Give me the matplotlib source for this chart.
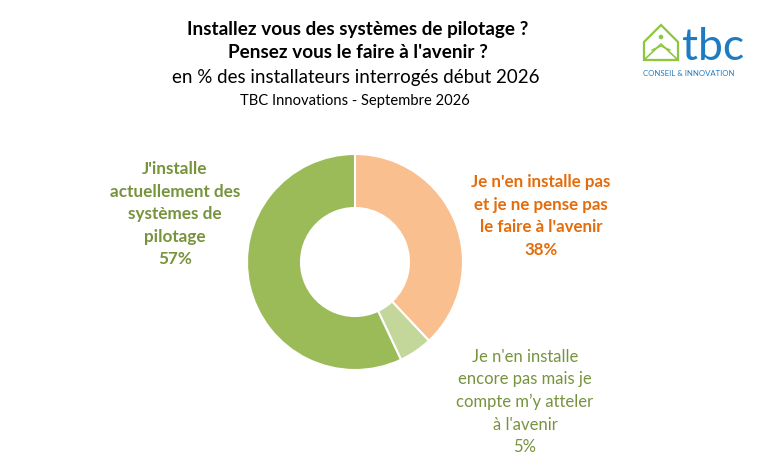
import numpy as np
import matplotlib.pyplot as plt
from matplotlib.patches import Polygon, Circle

plt.rcParams['font.family'] = ['Lato', 'DejaVu Sans']

labels = ["Je n'en installe pas\net je ne pense pas\nle faire à l'avenir\n38%",
          "Je n'en installe\nencore pas mais je\ncompte m’y atteler\nà l'avenir\n5%",
          "J'installe\nactuellement des\nsystèmes de\npilotage\n57%"]
values = [38, 5, 57]
colors = ['#F9BF8F', '#C4D79B', '#9BBB59']

fig = plt.figure(figsize=(7.7, 4.65), dpi=100)
fig.patch.set_facecolor('white')

# donut: centre ~ (355, 262) px, radius ~108 px
ax = fig.add_axes([(355 - 108) / 770, 1 - (262 + 108) / 465, 216 / 770, 216 / 465])
ax.pie(values, colors=colors, startangle=90, counterclock=False,
       wedgeprops=dict(width=0.5, edgecolor='white', linewidth=1.5))
ax.set_aspect('equal')
ax.set_xlim(-1, 1)
ax.set_ylim(-1, 1)

# labels
fig.text(541 / 770, 1 - 216 / 465, labels[0], ha='center', va='center',
         fontsize=12.2, fontweight='bold', color='#E46C0A', linespacing=1.5)
fig.text(525 / 770, 1 - 402 / 465, labels[1], ha='center', va='center',
         fontsize=12, color='#77933C', linespacing=1.5)
fig.text(175 / 770, 1 - 214 / 465, labels[2], ha='center', va='center',
         fontsize=12.3, fontweight='bold', color='#77933C', linespacing=1.5)

# titles
fig.text(358 / 770, 1 - 30 / 465, "Installez vous des systèmes de pilotage ?",
         ha='center', va='center', fontsize=13.6, fontweight='bold', color='black')
fig.text(358 / 770, 1 - 53 / 465, "Pensez vous le faire à l'avenir ?",
         ha='center', va='center', fontsize=13.6, fontweight='bold', color='black')
fig.text(356 / 770, 1 - 77 / 465, "en % des installateurs interrogés début 2026",
         ha='center', va='center', fontsize=13.5, color='black')
fig.text(355 / 770, 1 - 101 / 465, "TBC Innovations - Septembre 2026",
         ha='center', va='center', fontsize=10.6, color='black')

# logo
lax = fig.add_axes([630 / 770, 1 - 80 / 465, 130 / 770, 60 / 465])
lax.set_xlim(0, 130)
lax.set_ylim(60, 0)
lax.axis('off')
house = Polygon([[14, 40], [14, 22], [31, 5], [48, 22], [48, 40]], closed=True,
                fill=False, edgecolor='#8DC63F', linewidth=1.6)
lax.add_patch(house)
lax.plot([14, 31, 48], [40, 24, 40], color='#8DC63F', linewidth=1.2)
lax.plot([22, 31, 40], [30, 26, 30], color='#8DC63F', linewidth=1.0)
lax.add_patch(Circle((31, 17), 1.6, color='#8DC63F'))
lax.text(52, 40, "tbc", fontsize=32, color='#1F7BC1', ha='left', va='baseline')
lax.text(13, 53, "CONSEIL & INNOVATION", fontsize=5.6, color='#1F7BC1',
         ha='left', va='center')

fig.savefig('out.png', dpi=100, facecolor='white')
